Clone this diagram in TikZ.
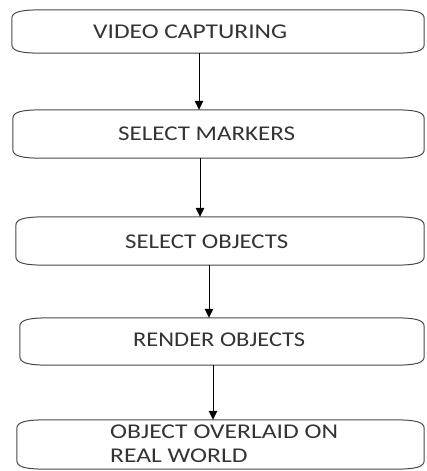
\documentclass[tikz,border=0pt]{standalone}
\usepackage{fontspec}
\setmainfont{Carlito}
\usetikzlibrary{calc,arrows.meta}
\definecolor{boxgray}{HTML}{484848}
\definecolor{txtgray}{HTML}{333333}
\tikzset{
  boxarea/.style={draw=none, inner sep=0pt},
  lbl/.style={anchor=west, inner sep=0pt, text=txtgray, font=\fontsize{21}{24}\selectfont},
  boxline/.style={draw=boxgray, line width=1pt},
  arr/.style={draw=black, line width=1pt, -{Triangle[width=8.5pt,length=9pt]}},
}
\begin{document}
\begin{tikzpicture}[x=1pt,y=-1pt]
\useasboundingbox (0,0) rectangle (427,471);
% box areas
\node[boxarea, minimum width=412pt, minimum height=43pt] (b1) at (218,31.5) {};
\node[boxarea, minimum width=411pt, minimum height=48pt] (b2) at (218.5,134) {};
\node[boxarea, minimum width=408pt, minimum height=48pt] (b3) at (220,241) {};
\node[boxarea, minimum width=404pt, minimum height=47pt] (b4) at (222,341.5) {};
\node[boxarea, minimum width=407pt, minimum height=49pt] (b5) at (220.5,444.5) {};
\foreach \n in {b1,b2,b3,b4,b5}{
  \draw[boxline]
    ($(\n.north west)+(0,9)$)
      .. controls ($(\n.north west)+(0,2)$) and ($(\n.north west)+(8,0)$) .. ($(\n.north west)+(32,0)$)
    -- ($(\n.north east)+(-32,0)$)
      .. controls ($(\n.north east)+(-8,0)$) and ($(\n.north east)+(0,2)$) .. ($(\n.north east)+(0,9)$)
    -- ($(\n.south east)+(0,-9)$)
      .. controls ($(\n.south east)+(0,-2)$) and ($(\n.south east)+(-8,0)$) .. ($(\n.south east)+(-32,0)$)
    -- ($(\n.south west)+(32,0)$)
      .. controls ($(\n.south west)+(8,0)$) and ($(\n.south west)+(0,-2)$) .. ($(\n.south west)+(0,-9)$)
    -- cycle;
}
\node[lbl] (t1) at (93,32) {\resizebox{194pt}{\height}{VIDEO CAPTURING}};
\node[lbl] (t2) at (118,134) {\resizebox{177pt}{\height}{SELECT MARKERS}};
\node[lbl] (t3) at (125,242) {\resizebox{163pt}{\height}{SELECT OBJECTS}};
\node[lbl] (t4) at (133,340) {\resizebox{172pt}{\height}{RENDER OBJECTS}};
\node[lbl] (t5) at (110,446) {\resizebox{228pt}{\height}{\begin{tabular}{@{}l@{}}OBJECT OVERLAID ON\\REAL WORLD\end{tabular}}};
% arrow x positions
\coordinate (x1) at (199,0);
\coordinate (x2) at (200,0);
\coordinate (x3) at (209,0);
\coordinate (x4) at (213,0);
\draw[arr] (b1.south -| x1) -- (b2.north -| x1);
\draw[arr] (b2.south -| x2) -- (b3.north -| x2);
\draw[arr] (b3.south -| x3) -- (b4.north -| x3);
\draw[arr] (b4.south -| x4) -- (b5.north -| x4);
\end{tikzpicture}
\end{document}
